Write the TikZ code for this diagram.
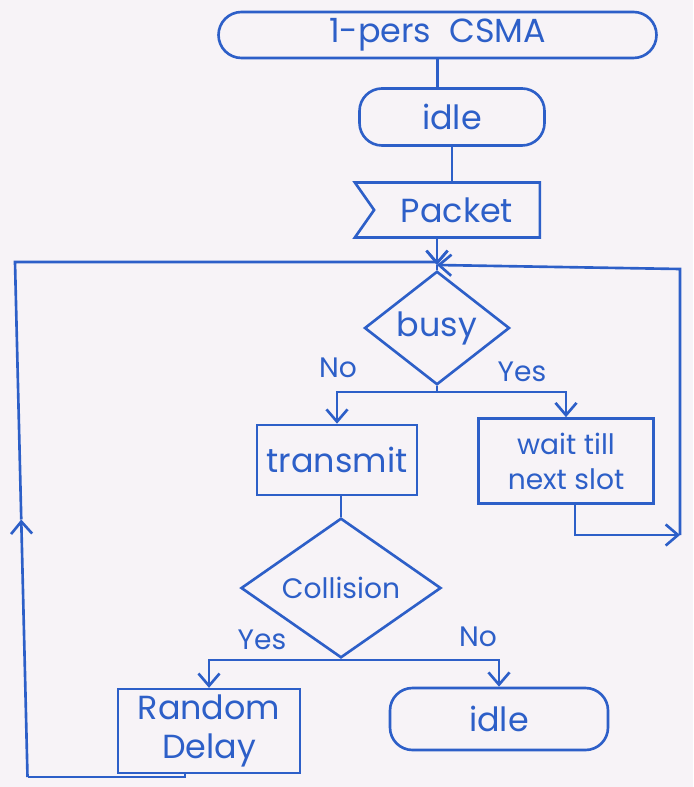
\documentclass[tikz,border=0pt]{standalone}
\usepackage{fontspec}
\setmainfont{Poppins}
\usetikzlibrary{shapes.geometric,shapes.misc,shapes.symbols,arrows.meta,calc}
\definecolor{ink}{RGB}{45,95,200}
\definecolor{paper}{RGB}{247,243,247}
\begin{document}
\begin{tikzpicture}[
    line width=1.5pt, draw=ink,
    every node/.style={text=ink, font=\fontsize{19}{22}\selectfont},
    term/.style={draw=ink, rounded rectangle, inner sep=2pt},
    idlebox/.style={draw=ink, rectangle, rounded corners=0.45cm},
    box/.style={draw=ink, rectangle, align=center},
    decide/.style={draw=ink, diamond, inner sep=0pt},
    lbl/.style={font=\fontsize{16}{18}\selectfont},
    arr/.style={-{Straight Barb[length=7pt,width=12pt]}}
  ]
  \fill[paper] (0,0) rectangle (13.86,-15.74);
  \useasboundingbox (0,0) rectangle (13.86,-15.74);

  % top part
  \node[term, minimum width=8.9cm, minimum height=0.92cm] (start) at (8.75,-0.70) {1-pers\ \ CSMA};
  \node[idlebox, minimum width=3.7cm, minimum height=1.14cm] (idle1) at (9.04,-2.34) {idle};
  \node[draw=ink, signal, signal from=west, signal to=nowhere, signal pointer angle=110,
        minimum width=3.7cm, minimum height=1.1cm] (packet) at (9.14,-4.20) {Packet};
  \coordinate (join) at (8.74,-5.30);

  % busy decision
  \node[decide, minimum width=2.9cm, minimum height=1.7cm] (busy) at (8.74,-6.56) {busy};
  \coordinate (split1) at (8.74,-7.84);
  \node[box, minimum width=3.2cm, minimum height=1.4cm] (transmit) at (6.74,-9.20) {transmit};
  \node[box, minimum width=3.5cm, minimum height=1.7cm, font=\fontsize{16}{20}\selectfont] (wait) at (11.32,-9.22) {wait till\\next slot};
  \node[lbl] (no1) at (6.76,-7.36) {No};
  \node[lbl] (yes1) at (10.44,-7.44) {Yes};

  % collision decision
  \node[decide, minimum width=4.0cm, minimum height=1.9cm, font=\fontsize{16}{18}\selectfont] (coll) at (6.82,-11.76) {Collision};
  \coordinate (split2) at (6.82,-13.20);
  \node[box, minimum width=3.64cm, minimum height=1.64cm] (delay) at (4.18,-14.62) {Random\\Delay};
  \node[idlebox, minimum width=4.36cm, minimum height=1.24cm] (idle2) at (9.98,-14.38) {idle};
  \node[lbl] (yes2) at (5.24,-12.80) {Yes};
  \node[lbl] (no2) at (9.56,-12.74) {No};

  % loop corners
  \coordinate (lb) at (0.55,-15.54);
  \coordinate (lt) at (0.30,-5.24);
  \coordinate (rb) at (13.60,-10.70);
  \coordinate (rt) at (13.60,-5.38);

  % connectors
  \draw (start.south) -- (start.south |- idle1.north);
  \draw (idle1.south) -- (idle1.south |- packet.north);
  \draw[arr] (packet.south -| join) -- (join);
  \draw (join) -- (busy.north);
  \draw (busy.south) -- (split1);
  \draw[arr] (split1) -| (transmit.north);
  \draw[arr] (split1) -| (wait.north);
  \draw (transmit.south -| coll.north) -- (coll.north);
  \draw (coll.south) -- (split2);
  \draw[arr] (split2) -| (delay.north);
  \draw[arr] (split2) -| (idle2.north);

  % loop back from random delay
  \draw (delay.south -| 3.70,0) -- (3.70,-15.54) -- (lb);
  \draw[arr] (lb) -- ($(lb)!0.5!(lt)$);
  \draw[arr] ($(lb)!0.5!(lt)$) -- (lt) -- (lt -| join) -- (join);

  % loop back from wait
  \draw[arr] (wait.south -| 11.50,0) |- (rb);
  \draw[arr] (rb) -- (rt) -- (join);
\end{tikzpicture}
\end{document}
